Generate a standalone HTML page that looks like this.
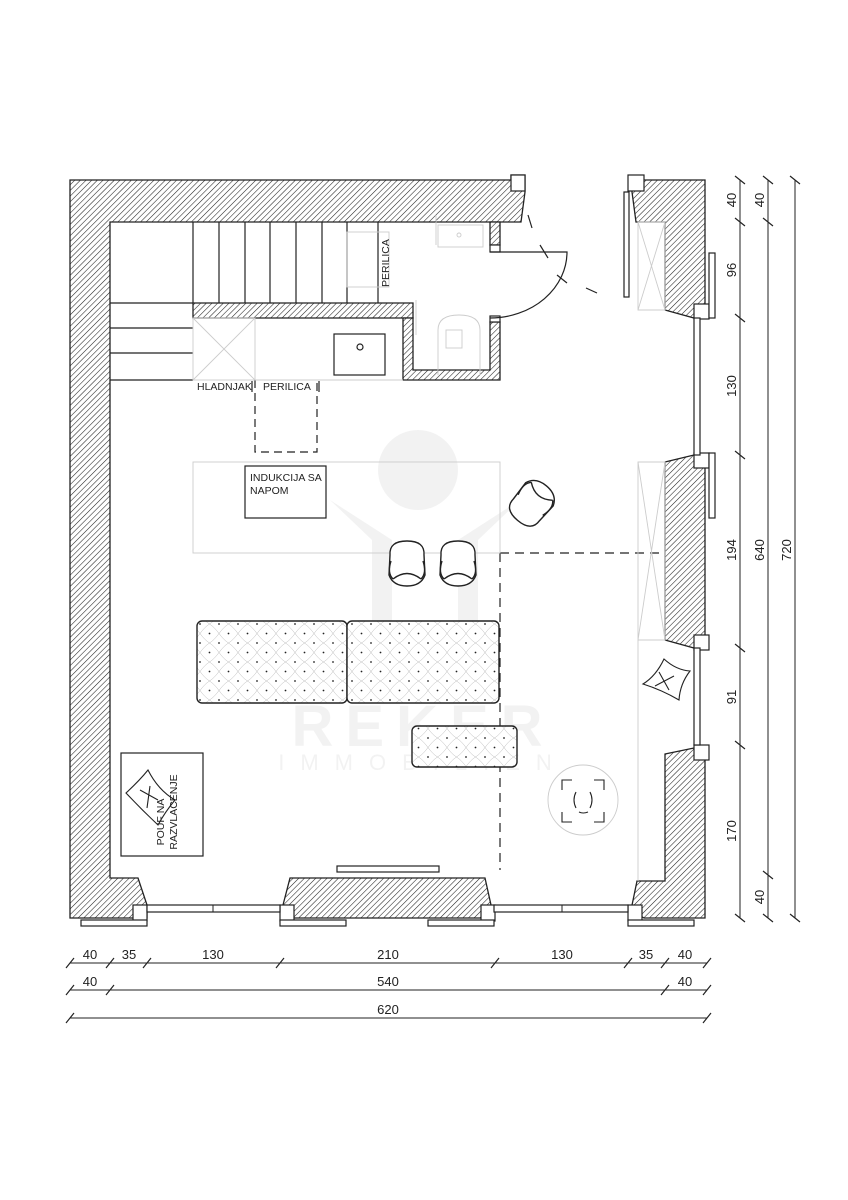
<!DOCTYPE html>
<html><head><meta charset="utf-8"><style>
html,body{margin:0;padding:0;background:#fff}
svg{display:block}
text{font-family:"Liberation Sans",sans-serif;fill:#222}
</style></head><body>
<svg width="848" height="1200" viewBox="0 0 848 1200" xmlns="http://www.w3.org/2000/svg">
<defs>
<pattern id="h" width="4" height="4" patternUnits="userSpaceOnUse" patternTransform="rotate(45)">
<rect width="4" height="4" fill="#fff"/><line x1="0" y1="0" x2="0" y2="4" stroke="#222" stroke-width="1.1"/>
</pattern>
<pattern id="t" width="19" height="19" patternUnits="userSpaceOnUse" x="200" y="624">
<rect width="19" height="19" fill="#fff"/>
<path d="M0 9.5 Q4.75 3 9.5 0 Q14.25 3 19 9.5 Q14.25 16 9.5 19 Q4.75 16 0 9.5" fill="none" stroke="#bbb" stroke-width="0.5"/>
<circle cx="9.5" cy="9.5" r="0.9" fill="#222"/><circle cx="0" cy="0" r="0.9" fill="#222"/><circle cx="19" cy="0" r="0.9" fill="#222"/><circle cx="0" cy="19" r="0.9" fill="#222"/><circle cx="19" cy="19" r="0.9" fill="#222"/>
</pattern>
</defs>

<!-- watermark -->
<g opacity="0.1" fill="#888">
<circle cx="418" cy="470" r="40"/>
<path d="M330 500 L372 540 L372 630 L392 630 L392 540 Z M520 500 L478 540 L478 630 L458 630 L458 540 Z" />
<text x="423" y="746" font-size="58" text-anchor="middle" font-weight="bold" style="fill:#888;letter-spacing:12px">REKER</text>
<text x="423" y="770" font-size="22" text-anchor="middle" style="fill:#888;letter-spacing:16px">IMMOBILIEN</text>
</g>

<!-- walls -->
<g fill="url(#h)" stroke="#222" stroke-width="1.3">
<path d="M70 180 H511 V175 H525 V192 L521 222 H110 V878 H138 L147 905 V918 H70 Z"/>
<path d="M632 180 H705 V310 L694 318 L665 310 V222 H636 L632 192 Z"/>
<path d="M665 462 L694 455 L705 455 V640 L694 648 L665 640 Z"/>
<path d="M665 754 L694 748 L705 748 V918 H644 L631 910 L637 881 H665 Z"/>
<path d="M283 905 L290 878 H485 L491 905 V918 H283 Z"/>
<path d="M193 303 H413 V318 H193 Z"/>
<path d="M403 318 H413 V370 H490 V322 H500 V380 H403 Z"/>
<path d="M490 222 H500 V245 H490 Z"/>
</g>
<g fill="#fff" stroke="#222" stroke-width="1.2">
<rect x="511" y="175" width="14" height="16"/><rect x="628" y="175" width="16" height="16"/>
<rect x="694" y="304" width="15" height="15"/><rect x="694" y="453" width="15" height="15"/>
<rect x="694" y="635" width="15" height="15"/><rect x="694" y="745" width="15" height="15"/>
<rect x="133" y="905" width="14" height="16"/><rect x="280" y="905" width="14" height="16"/>
<rect x="481" y="905" width="14" height="16"/><rect x="628" y="905" width="14" height="16"/>
<rect x="709" y="253" width="6" height="65"/><rect x="709" y="453" width="6" height="65"/>
<rect x="624" y="192" width="5" height="105"/>
<rect x="81" y="920" width="66" height="6"/><rect x="280" y="920" width="66" height="6"/>
<rect x="428" y="920" width="66" height="6"/><rect x="628" y="920" width="66" height="6"/>
<rect x="147" y="905" width="133" height="7"/><rect x="494" y="905" width="134" height="7"/>
<rect x="694" y="318" width="6" height="137"/><rect x="694" y="648" width="6" height="97"/>
<rect x="490" y="245" width="10" height="7"/><rect x="490" y="316" width="10" height="6"/>
</g>
<line x1="213" y1="905" x2="213" y2="912" stroke="#222"/><line x1="562" y1="905" x2="562" y2="912" stroke="#222"/>

<!-- stairs -->
<g stroke="#222" stroke-width="1.2" fill="none">
<path d="M193 222 V303 M219 222 V303 M245 222 V303 M270 222 V303 M296 222 V303 M322 222 V303 M347 222 V303 M378 222 V303"/>
<path d="M110 303 H193 M110 328 H193 M110 353 H193 M110 380 H193"/>
<rect x="334" y="334" width="51" height="41"/><circle cx="360" cy="347" r="3"/>
<path d="M490 252 H567 A77 66 0 0 1 490 318"/>
<path d="M528 215 L532 228 M540 245 L548 258 M557 275 L567 283 M586 288 L597 293" stroke-width="1.2"/>
<path d="M255 380 V452 H317 V380" stroke-dasharray="8 5"/>
<path d="M500 553 H665 M500 553 V870" stroke-dasharray="9 6"/>
<rect x="245" y="466" width="81" height="52"/>
<rect x="121" y="753" width="82" height="103"/>
<rect x="337" y="866" width="102" height="6"/>
<path d="M252 381 V392 M319 381 V392"/>
</g>
<!-- light lines -->
<g stroke="#ccc" stroke-width="0.9" fill="none">
<rect x="193" y="462" width="307" height="91"/>
<rect x="193" y="318" width="62" height="62"/><path d="M193 318 L255 380 M255 318 L193 380"/>
<path d="M255 380 H403"/>
<rect x="347" y="232" width="42" height="55"/>
<rect x="438" y="225" width="45" height="22"/><circle cx="459" cy="235" r="2"/>
<path d="M436 215 V245 M416 300 V335"/>
<path d="M438 375 V330 Q438 315 459 315 Q480 315 480 330 V375"/>
<rect x="446" y="330" width="16" height="18"/>
<path d="M638 222 H665 V310 H638 Z M638 222 L665 310 M665 222 L638 310"/>
<path d="M638 462 H665 V640 H638 Z M638 462 L665 640 M665 462 L638 640"/>
<path d="M638 640 V881"/>
<circle cx="583" cy="800" r="35"/>
</g>

<!-- sofas -->
<g stroke="#222" stroke-width="1.4" fill="url(#t)">
<rect x="197" y="621" width="150" height="82" rx="5"/>
<rect x="347" y="621" width="152" height="82" rx="5"/>
<rect x="412" y="726" width="105" height="41" rx="5"/>
</g>

<!-- chairs -->
<g stroke="#222" stroke-width="1.4" fill="#fff">
<g transform="translate(407,565)"><path d="M-17 -10 Q-18 -24 0 -24 Q18 -24 17 -10 L18 10 Q14 21 0 21 Q-14 21 -18 10 Z"/><path d="M-16 -4 Q-20 8 -14 14 M16 -4 Q20 8 14 14 M-14 14 Q0 3 14 14" fill="none"/></g>
<g transform="translate(458,565)"><path d="M-17 -10 Q-18 -24 0 -24 Q18 -24 17 -10 L18 10 Q14 21 0 21 Q-14 21 -18 10 Z"/><path d="M-16 -4 Q-20 8 -14 14 M16 -4 Q20 8 14 14 M-14 14 Q0 3 14 14" fill="none"/></g>
<g transform="translate(533,502) rotate(-140)"><path d="M-17 -10 Q-18 -24 0 -24 Q18 -24 17 -10 L18 10 Q14 21 0 21 Q-14 21 -18 10 Z"/><path d="M-16 -4 Q-20 8 -14 14 M16 -4 Q20 8 14 14 M-14 14 Q0 3 14 14" fill="none"/></g>
</g>
<!-- poufs / target -->
<g stroke="#222" stroke-width="1.1" fill="none">
<path d="M126 793 Q140 780 148 770 Q158 790 175 800 Q165 812 158 825 Q142 810 126 793 Z"/>
<path d="M140 790 L158 800 M150 786 L147 808"/>
<path d="M643 684 Q656 676 664 659 Q676 670 690 671 Q680 684 679 700 Q662 690 643 684 Z"/>
<path d="M659 672 L669 690 M655 686 L674 676"/>
<path d="M562 790 V780 H572 M594 780 H604 V790 M562 812 V822 H572 M594 822 H604 V812"/>
<path d="M576 792 Q572 800 576 808 M590 792 Q594 800 590 808 M579 812 Q583 814 588 812"/>
</g>

<!-- labels -->
<g font-size="10.5">
<text x="197" y="390">HLADNJAK</text><text x="263" y="390">PERILICA</text>
<text x="250" y="481">INDUKCIJA SA</text><text x="250" y="494">NAPOM</text>
<text transform="translate(389,287) rotate(-90)">PERILICA</text>
<text transform="translate(164,822) rotate(-90)" text-anchor="middle">POUF NA</text>
<text transform="translate(177,812) rotate(-90)" text-anchor="middle">RAZVLACENJE</text>
</g>

<!-- dimensions -->
<g stroke="#222" stroke-width="1">
<path d="M740 180 V918 M768 180 V918 M795 180 V918"/>
<path d="M70 963 H707 M70 990 H707 M70 1018 H707"/>
<g stroke-width="1.2">
<path d="M735 176 L745 184 M735 218 L745 226 M735 314 L745 322 M735 451 L745 459 M735 644 L745 652 M735 741 L745 749 M735 914 L745 922"/>
<path d="M763 176 L773 184 M763 218 L773 226 M763 871 L773 879 M763 914 L773 922"/>
<path d="M790 176 L800 184 M790 914 L800 922"/>
<path d="M66 968 L74 958 M106 968 L114 958 M143 968 L151 958 M276 968 L284 958 M491 968 L499 958 M624 968 L632 958 M661 968 L669 958 M703 968 L711 958"/>
<path d="M66 995 L74 985 M106 995 L114 985 M661 995 L669 985 M703 995 L711 985"/>
<path d="M66 1023 L74 1013 M703 1023 L711 1013"/>
</g>
</g>
<g font-size="13">
<text transform="translate(736,200) rotate(-90)" text-anchor="middle">40</text>
<text transform="translate(736,270) rotate(-90)" text-anchor="middle">96</text>
<text transform="translate(736,386) rotate(-90)" text-anchor="middle">130</text>
<text transform="translate(736,550) rotate(-90)" text-anchor="middle">194</text>
<text transform="translate(736,697) rotate(-90)" text-anchor="middle">91</text>
<text transform="translate(736,831) rotate(-90)" text-anchor="middle">170</text>
<text transform="translate(764,200) rotate(-90)" text-anchor="middle">40</text>
<text transform="translate(764,550) rotate(-90)" text-anchor="middle">640</text>
<text transform="translate(764,897) rotate(-90)" text-anchor="middle">40</text>
<text transform="translate(791,550) rotate(-90)" text-anchor="middle">720</text>
<text x="90" y="959" text-anchor="middle">40</text><text x="129" y="959" text-anchor="middle">35</text>
<text x="213" y="959" text-anchor="middle">130</text><text x="388" y="959" text-anchor="middle">210</text>
<text x="562" y="959" text-anchor="middle">130</text><text x="646" y="959" text-anchor="middle">35</text>
<text x="685" y="959" text-anchor="middle">40</text>
<text x="90" y="986" text-anchor="middle">40</text><text x="388" y="986" text-anchor="middle">540</text>
<text x="685" y="986" text-anchor="middle">40</text>
<text x="388" y="1014" text-anchor="middle">620</text>
</g>
</svg>
</body></html>
